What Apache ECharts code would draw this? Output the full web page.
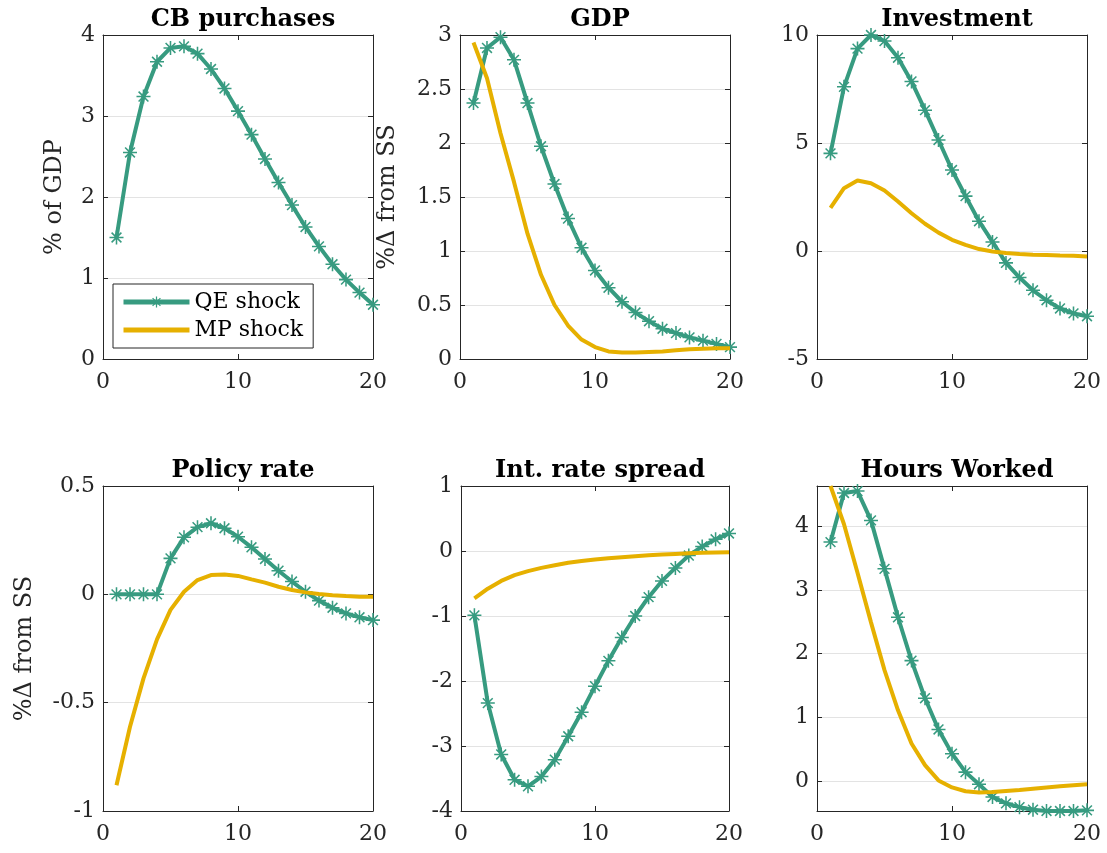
<!DOCTYPE html>
<html>
<head>
<meta charset="utf-8">
<script src="https://cdn.jsdelivr.net/npm/echarts@6/dist/echarts.min.js"></script>
<style>
html, body { margin: 0; padding: 0; background: #fff; }
#chart { width: 1107px; height: 853px; }
</style>
</head>
<body>
<div id="chart"></div>
<script>
// quarters after the shock
const periods = [1, 2, 3, 4, 5, 6, 7, 8, 9, 10, 11, 12, 13, 14, 15, 16, 17, 18, 19, 20]

const cbQE = [1.50, 2.55, 3.24, 3.67, 3.84, 3.86, 3.77, 3.58, 3.34, 3.06, 2.77, 2.47, 2.18, 1.90, 1.63, 1.39, 1.17, 0.98, 0.82, 0.67]

const gdpQE = [2.37, 2.88, 2.98, 2.77, 2.37, 1.97, 1.62, 1.30, 1.03, 0.82, 0.66, 0.53, 0.43, 0.35, 0.28, 0.24, 0.20, 0.17, 0.14, 0.11]
const gdpMP = [2.93, 2.60, 2.09, 1.64, 1.16, 0.78, 0.50, 0.31, 0.18, 0.11, 0.07, 0.06, 0.06, 0.065, 0.07, 0.08, 0.09, 0.095, 0.10, 0.10]

const invQE = [4.52, 7.6, 9.37, 10.0, 9.72, 8.95, 7.85, 6.52, 5.14, 3.75, 2.54, 1.38, 0.42, -0.55, -1.23, -1.82, -2.28, -2.66, -2.89, -3.02]
const invMP = [2.0, 2.91, 3.26, 3.14, 2.8, 2.29, 1.75, 1.26, 0.85, 0.52, 0.28, 0.09, -0.02, -0.09, -0.14, -0.17, -0.19, -0.21, -0.22, -0.25]

const rateQE = [0, 0, 0, 0, 0.166, 0.263, 0.31, 0.328, 0.305, 0.266, 0.217, 0.163, 0.109, 0.059, 0.012, -0.029, -0.062, -0.088, -0.106, -0.119]
const rateMP = [-0.881, -0.611, -0.388, -0.208, -0.072, 0.012, 0.066, 0.089, 0.092, 0.085, 0.069, 0.054, 0.035, 0.02, 0.009, 0.002, -0.004, -0.008, -0.011, -0.011]

const spreadQE = [-0.99, -2.34, -3.13, -3.52, -3.62, -3.47, -3.21, -2.85, -2.48, -2.08, -1.69, -1.33, -1.0, -0.71, -0.46, -0.26, -0.07, 0.07, 0.18, 0.27]
const spreadMP = [-0.73, -0.58, -0.46, -0.37, -0.31, -0.26, -0.22, -0.18, -0.155, -0.13, -0.11, -0.095, -0.08, -0.065, -0.055, -0.045, -0.035, -0.028, -0.022, -0.018]

const hoursQE = [3.75, 4.52, 4.55, 4.09, 3.33, 2.57, 1.89, 1.30, 0.81, 0.43, 0.14, -0.05, -0.25, -0.35, -0.41, -0.45, -0.47, -0.47, -0.47, -0.46]
const hoursMP = [4.63, 4.03, 3.27, 2.49, 1.74, 1.11, 0.59, 0.25, 0.01, -0.10, -0.16, -0.18, -0.17, -0.155, -0.14, -0.12, -0.10, -0.08, -0.065, -0.05]

const GREEN = '#379b80'
const YELLOW = '#e6b000'
const INK = '#262626'
const FONT = 'DejaVu Serif'

// 8-armed asterisk like matlab's '*'
const ASTERISK = 'path://M8.9 0L11.1 0L11.1 20L8.9 20Z M0 8.9L20 8.9L20 11.1L0 11.1Z M3.78 2.22L17.78 16.22L16.22 17.78L2.22 3.78Z M16.22 2.22L17.78 3.78L3.78 17.78L2.22 16.22Z'

const panels = [
    { title: 'CB purchases', left: 103, top: 35, width: 270, height: 324, y: { min: 0, max: 4, interval: 1 }, name: '% of GDP', nameGap: 36, qe: cbQE, mp: null },
    { title: 'GDP', left: 460, top: 35, width: 270, height: 324, y: { min: 0, max: 3, interval: 0.5 }, name: '%\u0394 from SS', nameGap: 60, qe: gdpQE, mp: gdpMP },
    { title: 'Investment', left: 817, top: 35, width: 270, height: 324, y: { min: -5, max: 10, interval: 5 }, name: '', nameGap: 0, qe: invQE, mp: invMP },
    { title: 'Policy rate', left: 103, top: 486, width: 270, height: 325, y: { min: -1, max: 0.5, interval: 0.5 }, name: '%\u0394 from SS', nameGap: 66, qe: rateQE, mp: rateMP },
    { title: 'Int. rate spread', left: 461, top: 486, width: 268, height: 325, y: { min: -4, max: 1, interval: 1 }, name: '', nameGap: 0, qe: spreadQE, mp: spreadMP },
    { title: 'Hours Worked', left: 817, top: 486, width: 270, height: 325, y: { min: 'dataMin', max: 'dataMax', splitNumber: 5 }, name: '', nameGap: 0, qe: hoursQE, mp: hoursMP }
]

const axisLine = { show: true, onZero: false, lineStyle: { color: INK, width: 1 } }
const tick = { show: true, inside: true, length: 5, lineStyle: { color: INK } }
const label = { color: INK, fontFamily: FONT, fontSize: 22 }

const grid = [], xAxis = [], yAxis = [], title = [], series = []
const n = panels.length

panels.forEach((p, i) => {
    grid.push({ left: p.left, top: p.top, width: p.width, height: p.height })
    title.push({
        text: p.title, left: p.left + p.width / 2, top: p.top - 32, textAlign: 'center',
        textStyle: { fontFamily: FONT, fontWeight: 'bold', fontSize: 24, color: '#000' }
    })
    xAxis[i] = {
        type: 'value', gridIndex: i, min: 0, max: 20, interval: 10,
        axisLine, axisTick: tick, splitLine: { show: false },
        axisLabel: Object.assign({ margin: 12 }, label)
    }
    xAxis[n + i] = {
        type: 'value', gridIndex: i, position: 'top', min: 0, max: 20, interval: 10,
        axisLine, axisTick: tick, splitLine: { show: false }, axisLabel: { show: false }
    }
    yAxis[i] = Object.assign({
        type: 'value', gridIndex: i,
        axisLine, axisTick: tick,
        splitLine: { show: true, lineStyle: { color: '#e3e3e3', width: 1 } },
        axisLabel: Object.assign({ margin: 8, showMinLabel: p.y.interval !== undefined, showMaxLabel: p.y.interval !== undefined }, label),
        name: p.name, nameLocation: 'middle', nameGap: p.nameGap, nameRotate: 90,
        nameTextStyle: { color: INK, fontFamily: FONT, fontSize: 24 }
    }, p.y)
    yAxis[n + i] = Object.assign({
        type: 'value', gridIndex: i, position: 'right',
        axisLine, axisTick: tick, splitLine: { show: false }, axisLabel: { show: false }
    }, p.y)

    series.push({
        name: 'QE shock', type: 'line', xAxisIndex: i, yAxisIndex: i,
        data: periods.map((t, k) => [t, p.qe[k]]),
        symbol: ASTERISK, symbolSize: 14, showSymbol: true,
        lineStyle: { color: GREEN, width: 4 },
        itemStyle: { color: GREEN },
        animation: false, z: 2
    })
    if (p.mp) {
        series.push({
            name: 'MP shock', type: 'line', xAxisIndex: i, yAxisIndex: i,
            data: periods.map((t, k) => [t, p.mp[k]]),
            symbol: 'none',
            lineStyle: { color: YELLOW, width: 4 },
            itemStyle: { color: YELLOW },
            animation: false, z: 3
        })
    }
})

const chart = echarts.init(document.getElementById('chart'), null, { renderer: 'canvas' })
chart.setOption({
    backgroundColor: '#fff',
    animation: false,
    title, grid, xAxis, yAxis, series,
    legend: {
        data: [
            { name: 'QE shock' },
            { name: 'MP shock', icon: 'path://M0 0L66 0L66 5L0 5Z', itemStyle: { color: YELLOW } }
        ],
        orient: 'vertical', left: 113, top: 284,
        backgroundColor: '#fff', borderColor: INK, borderWidth: 1,
        padding: [5, 10, 5, 8], itemGap: 2, itemWidth: 66, itemHeight: 14,
        lineStyle: { width: 5 },
        textStyle: { color: '#000', fontFamily: FONT, fontSize: 22, lineHeight: 26 }
    }
})
</script>
</body>
</html>
